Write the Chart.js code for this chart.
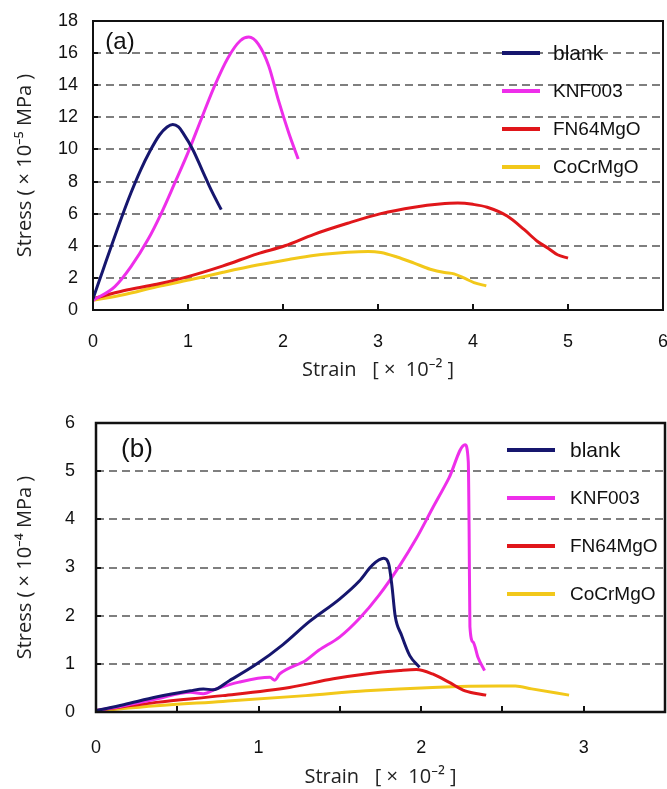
<!DOCTYPE html>
<html><head><meta charset="utf-8">
<script src="https://cdn.jsdelivr.net/npm/chart.js@4/dist/chart.umd.min.js"></script>
<style>
html,body{margin:0;padding:0;background:#fff;width:667px;height:789px;overflow:hidden}
#wa{position:absolute;left:0;top:0;width:667px;height:385px}
#wb{position:absolute;left:0;top:385px;width:667px;height:404px}
</style></head><body>
<div id="wa"><canvas id="ca"></canvas></div>
<div id="wb"><canvas id="cb"></canvas></div>
<script>
const seriesNames = ['blank', 'KNF003', 'FN64MgO', 'CoCrMgO'];
const seriesColors = ['#16166e', '#ee2eea', '#e0161a', '#f2c81a'];

// ---- panel (a) : stress x10^-5 MPa vs strain x10^-2 ----
const aBlankStrain = [0, 0.1, 0.2, 0.3, 0.4, 0.5, 0.6, 0.7, 0.78, 0.84, 0.9, 0.95, 1.05, 1.15, 1.25, 1.35];
const aBlankStress = [0.7, 2.4, 4.1, 5.75, 7.3, 8.7, 9.9, 10.9, 11.4, 11.56, 11.4, 11.0, 10.0, 8.7, 7.4, 6.25];
const aKnfStrain = [0, 0.23, 0.40, 0.58, 0.72, 0.86, 1.0, 1.14, 1.28, 1.42, 1.55, 1.64, 1.74, 1.85, 1.95, 2.06, 2.16];
const aKnfStress = [0.6, 1.46, 2.7, 4.4, 6.04, 7.9, 9.8, 11.9, 13.96, 15.7, 16.77, 17.0, 16.56, 15.2, 13.1, 11.04, 9.4];
const aFnStrain = [0, 0.32, 0.67, 0.95, 1.37, 1.73, 2.02, 2.32, 2.68, 3.03, 3.38, 3.65, 3.84, 4.0, 4.15, 4.36, 4.54, 4.68, 4.79, 4.89, 5.0];
const aFnStress = [0.7, 1.2, 1.6, 2.0, 2.75, 3.5, 4.0, 4.7, 5.4, 6.0, 6.4, 6.6, 6.66, 6.58, 6.4, 5.85, 5.0, 4.27, 3.85, 3.44, 3.23];
const aCoStrain = [0, 0.32, 0.67, 1.02, 1.37, 1.73, 2.06, 2.32, 2.68, 2.9, 3.03, 3.2, 3.38, 3.55, 3.7, 3.8, 3.91, 4.01, 4.14];
const aCoStress = [0.6, 0.95, 1.45, 1.88, 2.35, 2.8, 3.15, 3.4, 3.6, 3.65, 3.58, 3.3, 2.92, 2.54, 2.33, 2.25, 1.98, 1.71, 1.5];

// ---- panel (b) : stress x10^-4 MPa vs strain x10^-2 ----
const bBlankStrain = [0, 0.17, 0.37, 0.58, 0.66, 0.72, 0.82, 0.99, 1.15, 1.31, 1.5, 1.62, 1.70, 1.77, 1.80, 1.82, 1.84, 1.88, 1.93, 1.99];
const bBlankStress = [0.03, 0.15, 0.31, 0.44, 0.48, 0.46, 0.65, 1.0, 1.4, 1.87, 2.35, 2.72, 3.05, 3.19, 3.08, 2.63, 2.0, 1.59, 1.17, 0.93];
const bKnfStrain = [0, 0.17, 0.37, 0.58, 0.66, 0.74, 0.88, 1.07, 1.10, 1.13, 1.29, 1.37, 1.5, 1.62, 1.74, 1.87, 1.97, 2.07, 2.17, 2.27, 2.29, 2.295, 2.30, 2.32, 2.35, 2.39];
const bKnfStress = [0.03, 0.13, 0.27, 0.41, 0.38, 0.48, 0.62, 0.72, 0.66, 0.79, 1.07, 1.28, 1.56, 1.94, 2.42, 3.05, 3.6, 4.23, 4.85, 5.55, 5.2, 3.81, 1.77, 1.45, 1.13, 0.86];
const bFnStrain = [0, 0.37, 0.78, 1.19, 1.46, 1.66, 1.87, 1.97, 2.07, 2.17, 2.27, 2.40];
const bFnStress = [0.03, 0.2, 0.34, 0.51, 0.69, 0.79, 0.86, 0.88, 0.79, 0.62, 0.44, 0.35];
const bCoStrain = [0, 0.37, 0.78, 1.29, 1.66, 2.07, 2.48, 2.58, 2.68, 2.91];
const bCoStress = [0.02, 0.13, 0.22, 0.34, 0.44, 0.51, 0.54, 0.54, 0.48, 0.35];

const xTitle = 'Strain   [ ×  10⁻² ]';
const aYTitle = 'Stress ( × 10⁻⁵ MPa )';
const bYTitle = 'Stress ( × 10⁻⁴ MPa )';

const zip = (xs, ys) => xs.map((x, i) => ({x: x, y: ys[i]}));

const TICK_FONT = {family: 'Arial, "Liberation Sans", sans-serif', size: 18};
const TITLE_FONT = {family: '"Open Sans", "Noto Sans", sans-serif', size: 20};

const decor = {
  id: 'decor',
  beforeDatasetsDraw(chart, args, o) {
    const {ctx, chartArea: a, scales: {x, y}} = chart;
    ctx.save();
    ctx.setLineDash([8, 5]);
    ctx.strokeStyle = '#555';
    ctx.lineWidth = 1.5;
    y.ticks.forEach(t => {
      if (t.value <= y.min || t.value >= y.max) return;
      const py = Math.round(y.getPixelForValue(t.value));
      ctx.beginPath(); ctx.moveTo(a.left, py); ctx.lineTo(a.right, py); ctx.stroke();
    });
    ctx.restore();
  },
  afterDatasetsDraw(chart, args, o) {
    const {ctx, chartArea: a, scales: {x, y}} = chart;
    ctx.save();
    ctx.setLineDash([]);
    ctx.strokeStyle = '#111';
    ctx.lineWidth = 2;
    x.ticks.forEach(t => {
      if (t.value <= x.min || t.value >= x.max) return;
      const px = Math.round(x.getPixelForValue(t.value));
      ctx.beginPath(); ctx.moveTo(px, a.bottom); ctx.lineTo(px, a.bottom - 6); ctx.stroke();
    });
    y.ticks.forEach(t => {
      if (t.value <= y.min || t.value >= y.max) return;
      const py = Math.round(y.getPixelForValue(t.value));
      ctx.beginPath(); ctx.moveTo(a.left, py); ctx.lineTo(a.left + 5, py); ctx.stroke();
    });
    ctx.lineWidth = o.frame;
    ctx.strokeRect(a.left, a.top, a.right - a.left, a.bottom - a.top);
    // panel label
    ctx.fillStyle = '#111';
    ctx.font = o.panelSize + 'px Arial, "Liberation Sans", sans-serif';
    ctx.textAlign = 'center';
    ctx.textBaseline = 'middle';
    ctx.fillText(o.panel, a.left + o.panelDx, a.top + o.panelDy);
    // legend
    ctx.textAlign = 'left';
    chart.data.datasets.forEach((ds, i) => {
      const ly = a.top + o.legFirst + i * o.legGap;
      ctx.strokeStyle = ds.borderColor;
      ctx.lineWidth = 4;
      ctx.beginPath();
      ctx.moveTo(a.right - o.legLineFrom, ly);
      ctx.lineTo(a.right - o.legLineFrom + o.legLineLen, ly);
      ctx.stroke();
      ctx.fillStyle = '#111';
      ctx.font = (i === 0 ? o.legSize + 2 : o.legSize) + 'px Arial, "Liberation Sans", sans-serif';
      ctx.fillText(ds.label, a.right - o.legTextFrom, ly + 1);
    });
    ctx.restore();
  }
};

function makeDatasets(pairs) {
  return pairs.map((p, i) => ({
    label: seriesNames[i],
    data: zip(p[0], p[1]),
    borderColor: seriesColors[i],
    backgroundColor: seriesColors[i],
    borderWidth: 3,
    pointRadius: 0,
    showLine: true,
    cubicInterpolationMode: 'monotone',
    fill: false
  }));
}

function makeChart(id, datasets, cfg) {
  return new Chart(document.getElementById(id), {
    type: 'scatter',
    data: {datasets: datasets},
    plugins: [decor],
    options: {
      responsive: true,
      maintainAspectRatio: false,
      animation: false,
      devicePixelRatio: 1,
      layout: {padding: cfg.padding},
      plugins: {
        legend: {display: false},
        tooltip: {enabled: false},
        decor: cfg.decor
      },
      scales: {
        x: {
          type: 'linear', min: cfg.xMin, max: cfg.xMax,
          grid: {display: false, drawTicks: false},
          border: {display: false},
          ticks: {stepSize: cfg.xStep, padding: cfg.xPad, color: '#111', font: TICK_FONT,
                  maxRotation: 0, autoSkip: false,
                  callback: v => (Math.abs(v - Math.round(v)) < 1e-9 && v < cfg.xLabelMax + 1e-9) ? String(Math.round(v)) : ''},
          title: {display: true, text: xTitle, color: '#222', font: TITLE_FONT, padding: {top: 0, bottom: cfg.xTitlePad}},
          afterFit: s => { s.height = cfg.xAxisH; s.paddingLeft = 0; s.paddingRight = 0; }
        },
        y: {
          type: 'linear', min: cfg.yMin, max: cfg.yMax,
          grid: {display: false, drawTicks: false},
          border: {display: false},
          ticks: {stepSize: cfg.yStep, padding: cfg.yPad, color: '#111', font: TICK_FONT},
          title: {display: true, text: cfg.yTitle, color: '#222', font: TITLE_FONT, padding: {top: cfg.yTitlePad, bottom: 0}},
          afterFit: s => { s.width = cfg.yAxisW; s.paddingTop = 0; s.paddingBottom = 0; }
        }
      }
    }
  });
}

makeChart('ca', makeDatasets([[aBlankStrain, aBlankStress], [aKnfStrain, aKnfStress], [aFnStrain, aFnStress], [aCoStrain, aCoStress]]), {
  padding: {top: 21, right: 4, left: 0, bottom: 0},
  xMin: 0, xMax: 6, xStep: 1, xLabelMax: 6, xPad: 21, xAxisH: 75, xTitlePad: 3,
  yMin: 0, yMax: 18, yStep: 2, yPad: 15, yAxisW: 93, yTitlePad: 13, yTitle: aYTitle,
  decor: {frame: 2, panel: '(a)', panelSize: 24, panelDx: 27, panelDy: 21,
          legFirst: 32, legGap: 38, legLineFrom: 161, legLineLen: 38, legTextFrom: 110, legSize: 19}
});

makeChart('cb', makeDatasets([[bBlankStrain, bBlankStress], [bKnfStrain, bKnfStress], [bFnStrain, bFnStress], [bCoStrain, bCoStress]]), {
  padding: {top: 38, right: 2, left: 0, bottom: 0},
  xMin: 0, xMax: 3.5, xStep: 0.5, xLabelMax: 3, xPad: 25, xAxisH: 77, xTitlePad: 0,
  yMin: 0, yMax: 6, yStep: 1, yPad: 21, yAxisW: 96, yTitlePad: 13, yTitle: bYTitle,
  decor: {frame: 2.5, panel: '(b)', panelSize: 26, panelDx: 41, panelDy: 27,
          legFirst: 27, legGap: 48, legLineFrom: 158, legLineLen: 48, legTextFrom: 95, legSize: 19}
});
</script>
</body></html>
